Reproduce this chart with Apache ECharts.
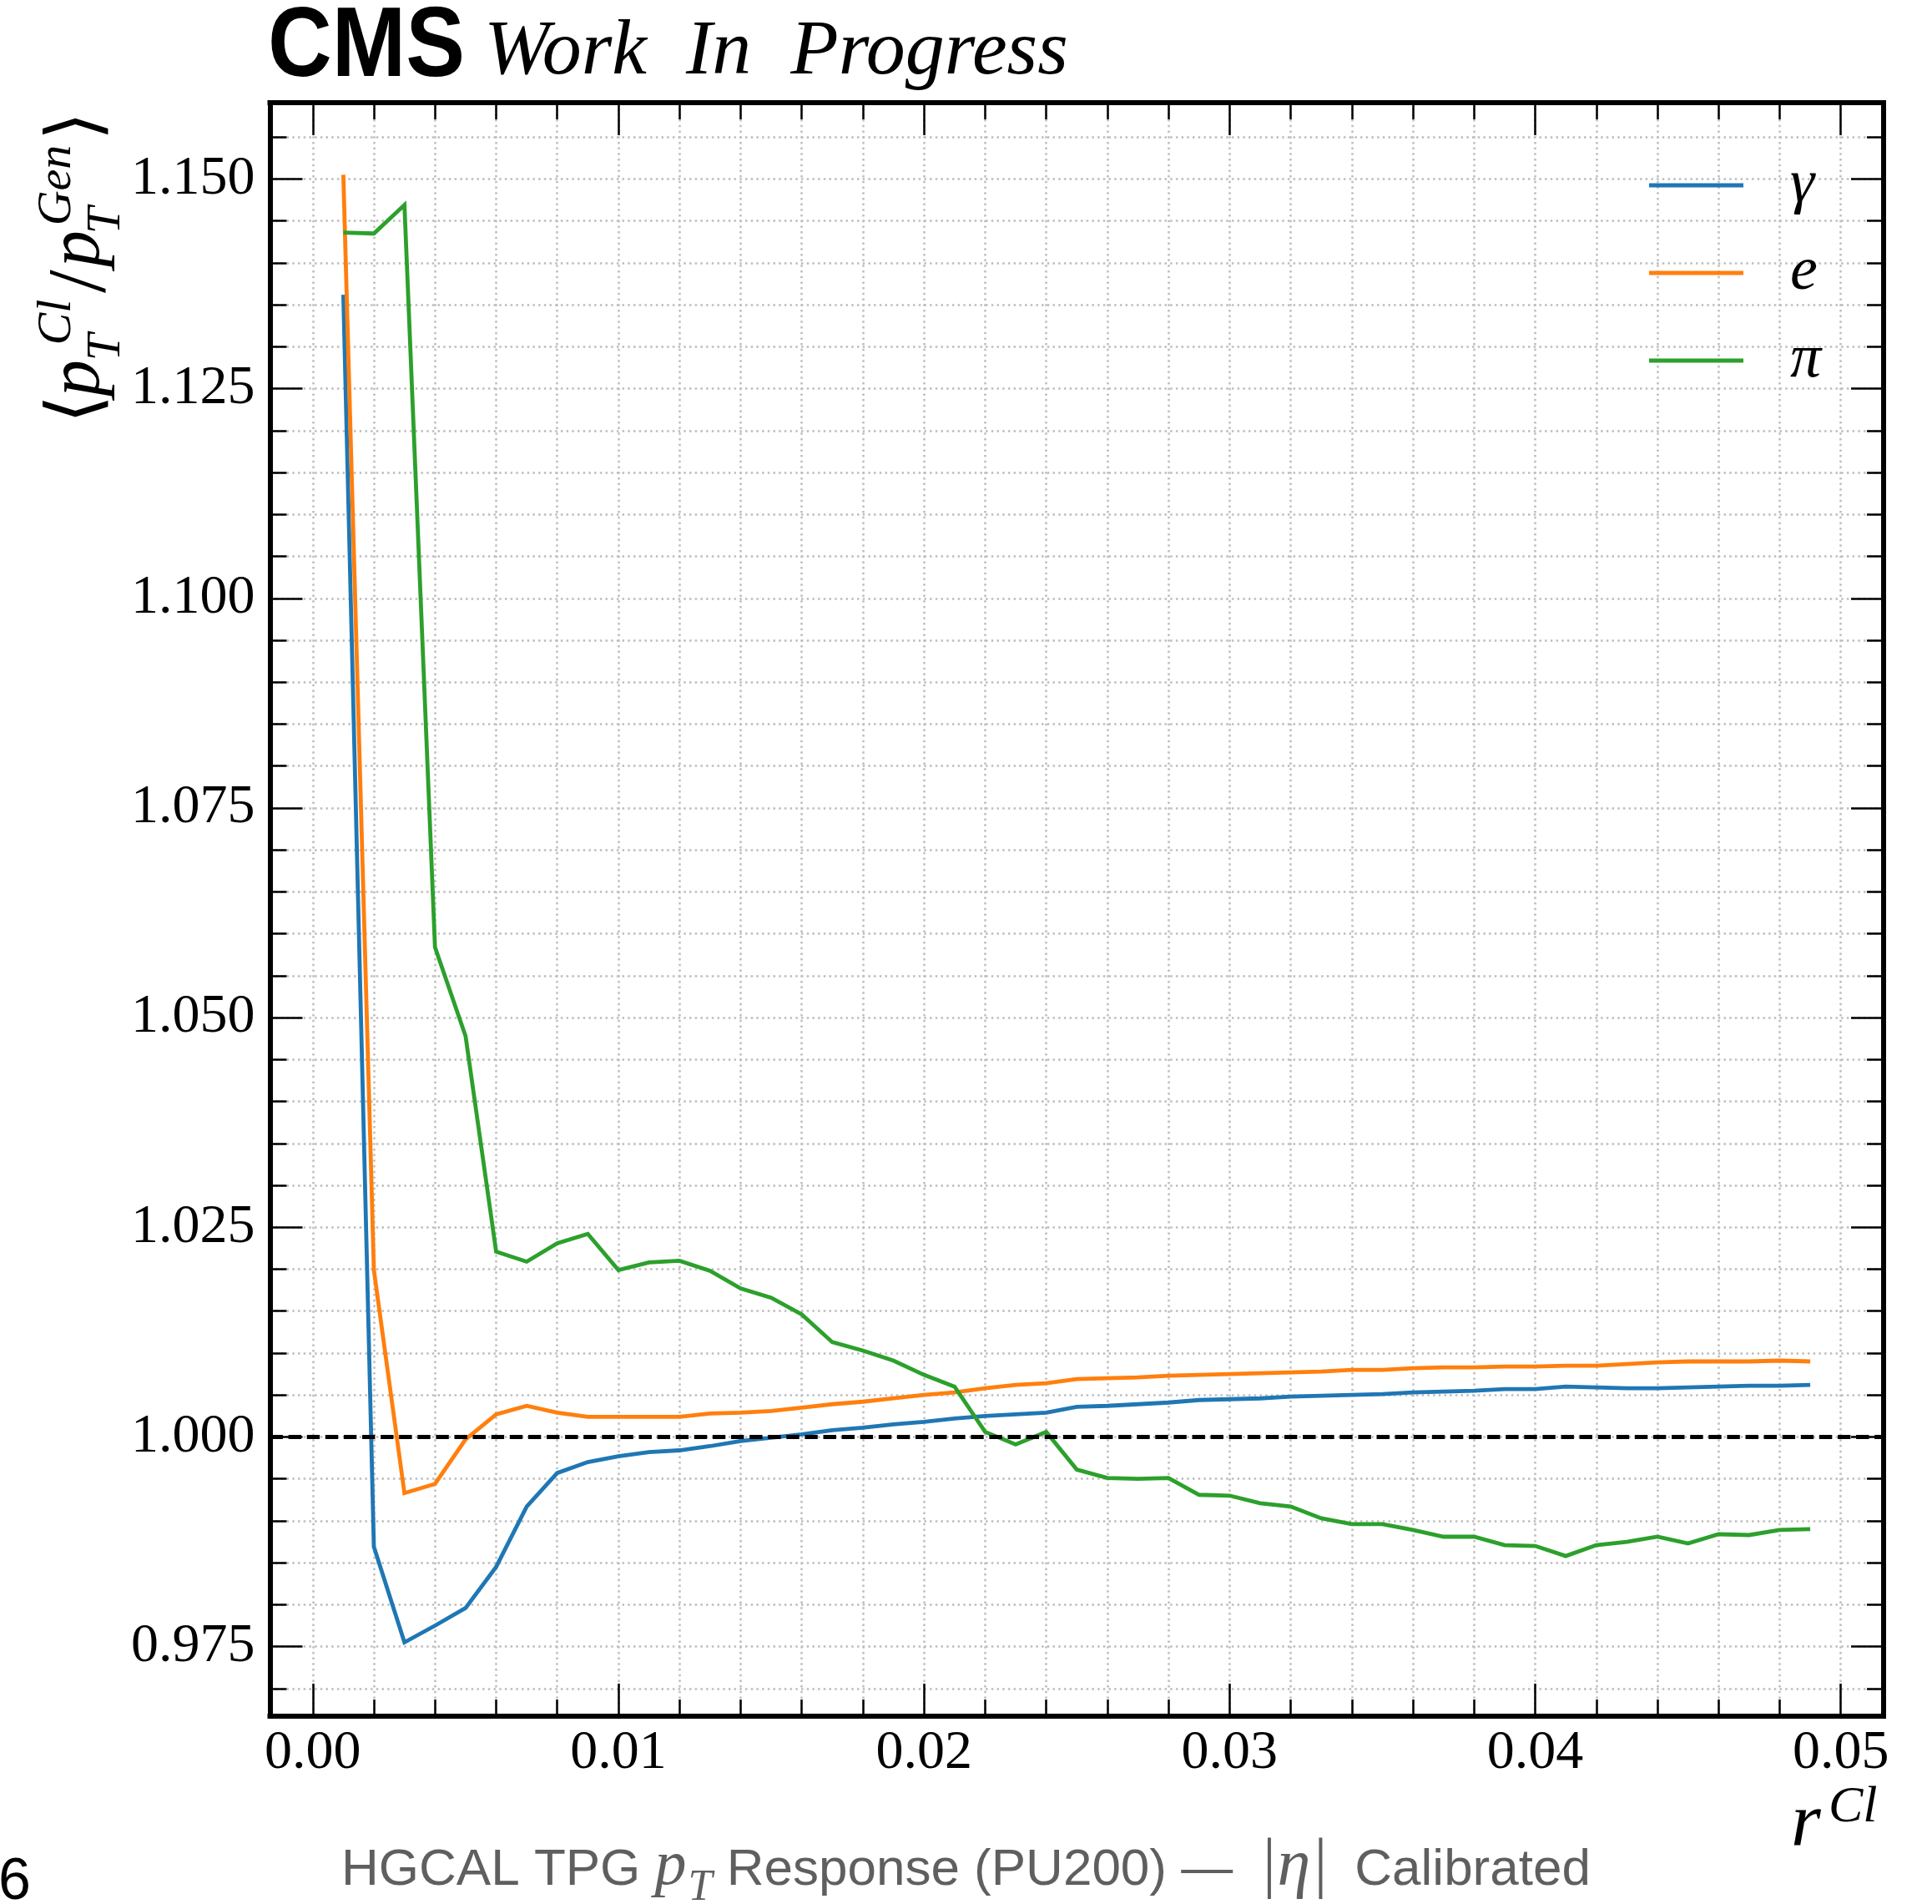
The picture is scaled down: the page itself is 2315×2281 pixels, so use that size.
<!DOCTYPE html>
<html>
<head>
<meta charset="utf-8">
<script src="https://cdn.jsdelivr.net/npm/echarts@6/dist/echarts.min.js"></script>
<style>
html,body{margin:0;padding:0;background:#ffffff;}
#chart{width:2315px;height:2281px;}
</style>
</head>
<body>
<div id="chart"></div>
<script>
// ---------------- data ----------------
const xValues = [0.001,0.002,0.003,0.004,0.005,0.006,0.007,0.008,0.009,0.010,
  0.011,0.012,0.013,0.014,0.015,0.016,0.017,0.018,0.019,0.020,
  0.021,0.022,0.023,0.024,0.025,0.026,0.027,0.028,0.029,0.030,
  0.031,0.032,0.033,0.034,0.035,0.036,0.037,0.038,0.039,0.040,
  0.041,0.042,0.043,0.044,0.045,0.046,0.047,0.048,0.049];
const gammaResponse = [1.1362,0.9869,0.9755,0.9775,0.9796,0.9845,0.9917,0.9957,0.9970,0.9977,
  0.9982,0.9984,0.9989,0.9995,0.9999,1.0003,1.0008,1.0011,1.0015,1.0018,
  1.0022,1.0025,1.0027,1.0029,1.0036,1.0037,1.0039,1.0041,1.0044,1.0045,
  1.0046,1.0048,1.0049,1.0050,1.0051,1.0053,1.0054,1.0055,1.0057,1.0057,
  1.0060,1.0059,1.0058,1.0058,1.0059,1.0060,1.0061,1.0061,1.0062];
const electronResponse = [1.1505,1.0199,0.9933,0.9944,0.9997,1.0027,1.0037,1.0029,1.0024,1.0024,
  1.0024,1.0024,1.0028,1.0029,1.0031,1.0035,1.0039,1.0042,1.0046,1.0050,
  1.0053,1.0058,1.0062,1.0064,1.0069,1.0070,1.0071,1.0073,1.0074,1.0075,
  1.0076,1.0077,1.0078,1.0080,1.0080,1.0082,1.0083,1.0083,1.0084,1.0084,
  1.0085,1.0085,1.0087,1.0089,1.0090,1.0090,1.0090,1.0091,1.0090];
const pionResponse = [1.1436,1.1435,1.1469,1.0584,1.0478,1.0221,1.0209,1.0231,1.0242,1.0199,
  1.0208,1.0210,1.0198,1.0177,1.0166,1.0146,1.0113,1.0103,1.0091,1.0074,
  1.0060,1.0006,0.9991,1.0006,0.9961,0.9951,0.9950,0.9951,0.9931,0.9930,
  0.9921,0.9917,0.9903,0.9896,0.9896,0.9889,0.9881,0.9881,0.9871,0.9870,
  0.9858,0.9871,0.9875,0.9881,0.9873,0.9884,0.9883,0.9889,0.9890];
const seriesNames = ['γ', 'e', 'π'];
const xTickLabels = [0.00, 0.01, 0.02, 0.03, 0.04, 0.05];
const yTickLabels = [0.975, 1.000, 1.025, 1.050, 1.075, 1.100, 1.125, 1.150];
const referenceLevel = 1.0;

// ---------------- layout / style ----------------
const X_MIN = -0.0014, X_MAX = 0.0514;
const Y_MIN = 0.9667, Y_MAX = 1.1591;
const COLORS = ['#1f77b4', '#ff7f0e', '#2ca02c'];
const SERIF = "'Liberation Serif', 'DejaVu Serif', serif";
const SANS = "'Liberation Sans', Arial, Helvetica, sans-serif";
const BRACKET = "'DejaVu Sans', 'DejaVu Serif', 'Noto Sans', sans-serif";
const LINE_W = 4.8;
const gridLine = { color: '#bdbdbd', width: 2.5, type: [2.5, 4.2] };
const frameLine = { color: '#000', width: 6, cap: 'square' };
const tickLine = { color: '#000', width: 2.5 };
const MAJOR_LEN = 39, MINOR_LEN = 20;

function isMultiple(v, step) {
  const r = v / step;
  return Math.abs(r - Math.round(r)) < 1e-6;
}

function pairs(ys) { return xValues.map((x, i) => [x, ys[i]]); }

// text helper: y given as alphabetic baseline
function txt(text, x, baseline, size, family, o) {
  o = o || {};
  const el = {
    type: 'text', x: x, y: baseline - 0.34 * size, z: 100, silent: true,
    style: {
      text: text, fill: o.color || '#000',
      fontSize: size, fontFamily: family,
      fontStyle: o.style || 'normal', fontWeight: o.weight || 'normal',
      textAlign: o.align || 'left', align: o.align || 'left',
      textVerticalAlign: 'middle', verticalAlign: 'middle'
    }
  };
  if (o.scaleX) el.scaleX = o.scaleX;
  return el;
}

// y-axis label pieces (local coords of rotated group; cx along reading direction, base = baseline offset)
const YF = 88, YS = 58;
const yLabelPieces = [
  { t: '⟨', cx: 10, base: 0, size: YF, fam: BRACKET, st: 'normal' },
  { t: 'p', cx: 47, base: 0, size: YF, fam: SERIF, st: 'italic' },
  { t: 'T', cx: 84, base: 22, size: YS, fam: SERIF, st: 'italic' },
  { t: 'Cl', cx: 114, base: -37, size: YS, fam: SERIF, st: 'italic' },
  { t: '/', cx: 163, base: 8, size: 100, fam: SERIF, st: 'normal' },
  { t: 'p', cx: 202, base: 0, size: YF, fam: SERIF, st: 'italic' },
  { t: 'T', cx: 236, base: 22, size: YS, fam: SERIF, st: 'italic' },
  { t: 'Gen', cx: 278, base: -37, size: YS, fam: SERIF, st: 'italic' },
  { t: '⟩', cx: 349, base: 0, size: YF, fam: BRACKET, st: 'normal' }
];

const graphics = [
  txt('CMS', 321, 99, 118, SANS, { weight: 'bold', scaleX: 0.9 }),
  txt('Work\u2002In\u2002Progress', 580, 95, 94, SERIF, { style: 'italic' }),
  txt('r', 2146, 2217, 92, SERIF, { style: 'italic' }),
  txt('Cl', 2191, 2187, 62, SERIF, { style: 'italic' }),
  txt('6', 37, 2280, 70, SANS, { align: 'right' }),
  {
    type: 'group', x: 125, y: 500, rotation: Math.PI / 2, silent: true, z: 100,
    children: yLabelPieces.map(p => ({
      type: 'text', x: p.cx, y: p.base - 0.34 * p.size, silent: true, z: 100,
      style: {
        text: p.t, fill: '#000', fontSize: p.size, fontFamily: p.fam, fontStyle: p.st,
        textAlign: 'center', align: 'center', textVerticalAlign: 'middle', verticalAlign: 'middle'
      }
    }))
  },
  {
    type: 'text', x: 1157.5, y: 2262 - 0.345 * 62, z: 100, silent: true,
    style: {
      text: '{s|HGCAL TPG }{p|p}{t|T}{s| Response (PU200) — }{m||η|}{s| Calibrated}',
      textAlign: 'center', align: 'center', textVerticalAlign: 'middle', verticalAlign: 'middle',
      rich: {
        s: { fontFamily: SANS, fontSize: 62, fill: '#5f5f5f', color: '#5f5f5f' },
        p: { fontFamily: SERIF, fontStyle: 'italic', fontSize: 76, fill: '#5f5f5f', color: '#5f5f5f', padding: [0, 0, 8, 0] },
        t: { fontFamily: SERIF, fontStyle: 'italic', fontSize: 52, fill: '#5f5f5f', color: '#5f5f5f', padding: [43, 0, 0, 2] },
        m: { fontFamily: SERIF, fontStyle: 'italic', fontSize: 80, fill: '#5f5f5f', color: '#5f5f5f', padding: [0, 14, 8, 14] }
      }
    }
  }
];

function baseX(pos, showLabel, showGrid) {
  return {
    type: 'value', gridIndex: 0, position: pos, min: X_MIN, max: X_MAX,
    minInterval: 0.01, maxInterval: 0.01,
    axisLine: { show: true, onZero: false, lineStyle: frameLine },
    axisTick: { show: true, inside: true, length: MAJOR_LEN, lineStyle: tickLine },
    minorTick: { show: true, splitNumber: 5, length: MINOR_LEN, lineStyle: tickLine },
    splitLine: { show: showGrid, lineStyle: gridLine },
    minorSplitLine: { show: showGrid, lineStyle: gridLine },
    axisLabel: {
      show: showLabel, margin: 12, color: '#000', fontFamily: SERIF, fontSize: 66,
      formatter: v => (isMultiple(v, 0.01) && xTickLabels.some(t => Math.abs(t - v) < 1e-9)) ? Math.abs(v).toFixed(2) : ''
    }
  };
}
function minorY(pos, showGrid) {
  return {
    type: 'value', gridIndex: 0, position: pos, min: Y_MIN, max: Y_MAX,
    minInterval: 0.005, maxInterval: 0.005,
    axisLine: { show: true, onZero: false, lineStyle: frameLine },
    axisTick: { show: true, inside: true, length: MINOR_LEN, lineStyle: tickLine },
    splitLine: { show: showGrid, lineStyle: gridLine },
    minorTick: { show: false }, minorSplitLine: { show: false },
    axisLabel: { show: false }
  };
}
function majorY(pos, showLabel) {
  return {
    type: 'value', gridIndex: 0, position: pos, min: Y_MIN, max: Y_MAX,
    axisLine: { show: false, onZero: false },
    axisTick: { show: true, inside: true, length: MAJOR_LEN, lineStyle: tickLine, customValues: yTickLabels },
    splitLine: { show: false }, minorTick: { show: false }, minorSplitLine: { show: false },
    axisLabel: {
      show: showLabel, customValues: yTickLabels, margin: 18, color: '#000', fontFamily: SERIF, fontSize: 66,
      formatter: v => v.toFixed(3)
    }
  };
}

const seriesData = [gammaResponse, electronResponse, pionResponse];
const series = seriesData.map((ys, i) => ({
  name: seriesNames[i], type: 'line', xAxisIndex: 0, yAxisIndex: 0,
  data: pairs(ys), symbol: 'none', showSymbol: false, smooth: false, z: 3 + i,
  color: COLORS[i],
  lineStyle: { color: COLORS[i], width: LINE_W, join: 'miter' },
  itemStyle: { color: COLORS[i] },
  emphasis: { disabled: true }
}));
series[0].markLine = {
  silent: true, symbol: 'none', animation: false, z: 10,
  label: { show: false },
  lineStyle: { color: '#000', width: LINE_W, type: [15.4, 6.7] },
  data: [{ yAxis: referenceLevel }]
};

const option = {
  animation: false,
  backgroundColor: '#ffffff',
  grid: { left: 323.5, right: 58, top: 123, bottom: 225, containLabel: false, outerBoundsMode: 'none' },
  xAxis: [baseX('bottom', true, true), baseX('top', false, false)],
  yAxis: [minorY('left', true), majorY('left', true), minorY('right', false), majorY('right', false)],
  legend: {
    show: true, orient: 'vertical', left: 1976, top: 185, padding: 0,
    icon: 'rect', itemWidth: 113, itemHeight: LINE_W, itemGap: 31,
    selectedMode: false,
    data: seriesNames,
    textStyle: { fontFamily: SERIF, fontStyle: 'italic', fontSize: 74, lineHeight: 72, color: '#000', padding: [0, 0, 0, 51] }
  },
  graphic: graphics,
  series: series
};

const chart = echarts.init(document.getElementById('chart'), null, { renderer: 'canvas', width: 2315, height: 2281 });
chart.setOption(option);
</script>
</body>
</html>
